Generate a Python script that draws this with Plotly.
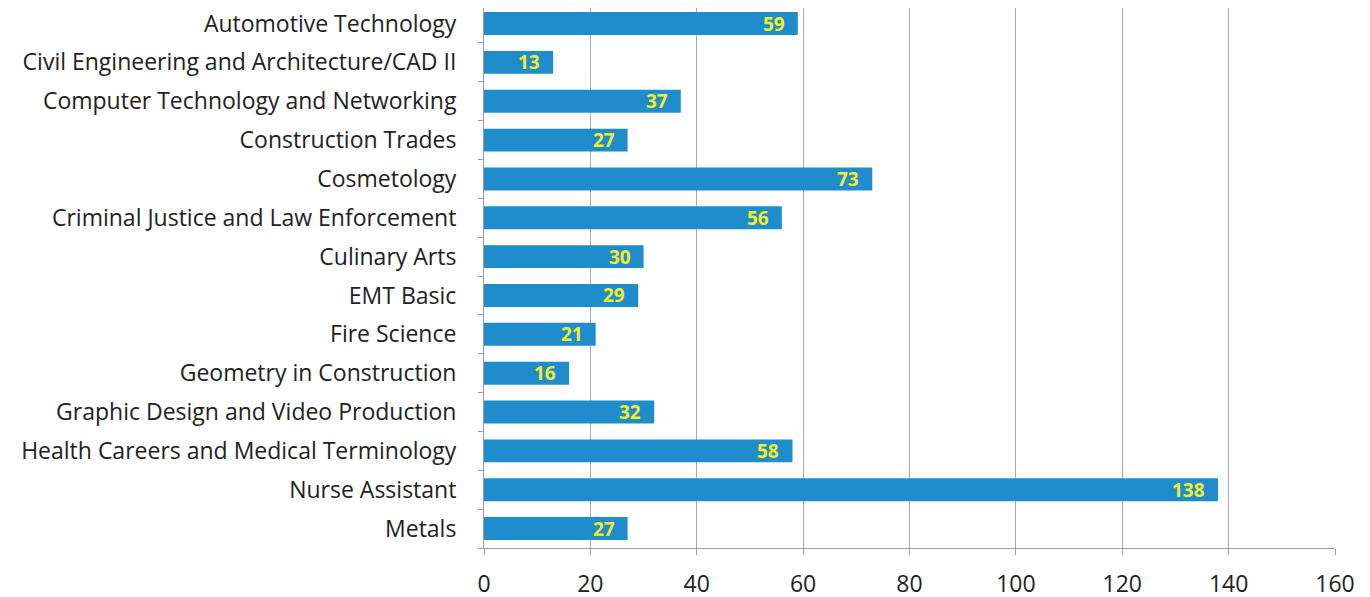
import plotly.graph_objects as go

categories = [
    "Automotive Technology",
    "Civil Engineering and Architecture/CAD II",
    "Computer Technology and Networking",
    "Construction Trades",
    "Cosmetology",
    "Criminal Justice and Law Enforcement",
    "Culinary Arts",
    "EMT Basic",
    "Fire Science",
    "Geometry in Construction",
    "Graphic Design and Video Production",
    "Health Careers and Medical Terminology",
    "Nurse Assistant",
    "Metals",
]
values = [59, 13, 37, 27, 73, 56, 30, 29, 21, 16, 32, 58, 138, 27]
x_ticks = [0, 20, 40, 60, 80, 100, 120, 140, 160]

fig = go.Figure(
    go.Bar(
        x=values,
        y=categories,
        orientation="h",
        marker=dict(color="#1f8dcc", line=dict(width=0)),
        width=0.59,
        hoverinfo="x+y",
    )
)

for c, v in zip(categories, values):
    fig.add_annotation(
        x=v, y=c, text=str(v), showarrow=False,
        xanchor="right", yanchor="middle", xshift=-11,
        font=dict(family="Open Sans", size=19, color="#f2ee2c", weight="bold"),
    )

fig.update_layout(
    width=1370,
    height=597,
    margin=dict(l=476, r=43, t=0, b=57),
    paper_bgcolor="white",
    plot_bgcolor="white",
    showlegend=False,
    xaxis=dict(
        range=[0, 160],
        tickvals=x_ticks,
        showgrid=True,
        gridcolor="#a9a9b8",
        gridwidth=1,
        showline=True,
        linecolor="#9a9aa8",
        ticks="outside",
        ticklen=6,
        tickcolor="#9a9aa8",
        ticklabelstandoff=9,
        tickfont=dict(family="Open Sans", size=23, color="#222222"),
        zeroline=False,
        automargin=False,
    ),
    yaxis=dict(
        categoryorder="array",
        categoryarray=categories[::-1],
        autorange=False,
        range=[-0.5, 13.40],
        showline=True,
        linecolor="#9a9aa8",
        ticks="outside",
        ticklen=5,
        tickcolor="#9a9aa8",
        tickson="boundaries",
        ticklabelstandoff=22,
        tickfont=dict(family="Open Sans", size=23, color="#222222"),
        showgrid=False,
        automargin=False,
    ),
)

fig.write_html("out.html")
